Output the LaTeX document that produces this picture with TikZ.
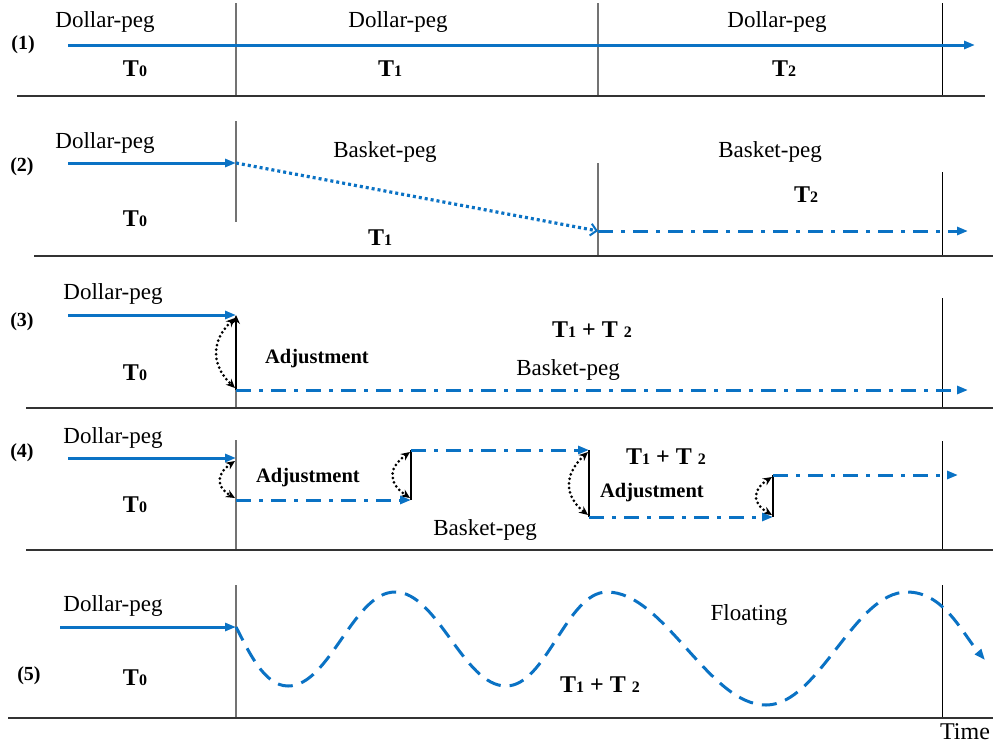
\documentclass[tikz,border=0pt]{standalone}
\usepackage{fontspec}
\setmainfont{Liberation Serif}
\usetikzlibrary{arrows.meta}
\definecolor{pegblue}{RGB}{10,114,196}
\newcommand\Dn[1]{{\fontsize{16}{18}\selectfont #1}}
\newcommand\Tn[1]{T\Dn{#1}}
\begin{document}
\begin{tikzpicture}[x=1pt,y=-1pt,
  lbl/.style={font=\fontsize{23}{26}\selectfont, inner sep=0pt},
  tlbl/.style={font=\bfseries\fontsize{24}{28}\selectfont, inner sep=0pt},
  adj/.style={font=\bfseries\fontsize{20.5}{24}\selectfont, inner sep=0pt},
  num/.style={font=\bfseries\fontsize{20}{24}\selectfont, inner sep=0pt},
  axisline/.style={draw=black!55, line width=1.3pt},
  sepline/.style={draw=black, line width=1pt},
  floorline/.style={draw=black!80, line width=1.3pt},
  bluetip/.style={-{Triangle[length=11pt,width=8pt]}},
  peg/.style={draw=pegblue, line width=3pt, bluetip},
  basket/.style={draw=pegblue, line width=3pt, dash pattern=on 15pt off 8pt on 4pt off 8pt, bluetip},
  slide/.style={draw=pegblue, line width=3.2pt, dash pattern=on 3pt off 3pt, -{Straight Barb[length=6pt,width=12pt,line width=2pt]}},
  wave/.style={draw=pegblue, line width=3pt, dash pattern=on 15pt off 9pt, bluetip},
  jump/.style={draw=black, line width=1.2pt},
  arcdot/.style={draw=black, line width=3pt, dash pattern=on 0pt off 4.6pt, line cap=round, {Stealth[length=9pt,width=8pt]}-{Stealth[length=9pt,width=8pt]}}
]
\useasboundingbox (0,0) rectangle (995,745);

% ---------------- Panel 1 ----------------
\node[num] (n1) at (23,45) {(1)};
\node[lbl] (p1a) at (105,22) {Dollar-peg};
\node[lbl] (p1b) at (398,22) {Dollar-peg};
\node[lbl] (p1c) at (777,22) {Dollar-peg};
\node[tlbl] (p1t0) at (135,69) {\Tn{0}};
\node[tlbl] (p1t1) at (390,69) {\Tn{1}};
\node[tlbl] (p1t2) at (784,69) {\Tn{2}};
\coordinate (p1s) at (68,45); \coordinate (p1e) at (975,45);
\coordinate (p1v1a) at (236,3); \coordinate (p1v1b) at (236,96);
\coordinate (p1v2a) at (598,3); \coordinate (p1v2b) at (598,96);
\coordinate (p1v3a) at (942,3); \coordinate (p1v3b) at (942,96);
\coordinate (p1fa) at (17,96); \coordinate (p1fb) at (985,96);
\draw[axisline] (p1v1a) -- (p1v1b);
\draw[axisline] (p1v2a) -- (p1v2b);
\draw[sepline] (p1v3a) -- (p1v3b);
\draw[floorline] (p1fa) -- (p1fb);
\draw[peg] (p1s) -- (p1e);

% ---------------- Panel 2 ----------------
\node[num] (n2) at (22,167) {(2)};
\node[lbl] (p2a) at (105,143) {Dollar-peg};
\node[lbl] (p2b) at (385,152) {Basket-peg};
\node[lbl] (p2c) at (770,152) {Basket-peg};
\node[tlbl] (p2t0) at (135,219) {\Tn{0}};
\node[tlbl] (p2t1) at (380,238) {\Tn{1}};
\node[tlbl] (p2t2) at (806,195) {\Tn{2}};
\coordinate (p2s) at (68,163); \coordinate (p2k) at (236,163);
\coordinate (p2m) at (598,231); \coordinate (p2e) at (968,231);
\coordinate (p2v1a) at (236,121); \coordinate (p2v1b) at (236,222);
\coordinate (p2v2a) at (598,163); \coordinate (p2v2b) at (598,256);
\coordinate (p2v3a) at (942,172); \coordinate (p2v3b) at (942,256);
\coordinate (p2fa) at (34,256); \coordinate (p2fb) at (993,256);
\draw[axisline] (p2v1a) -- (p2v1b);
\draw[axisline] (p2v2a) -- (p2v2b);
\draw[sepline] (p2v3a) -- (p2v3b);
\draw[floorline] (p2fa) -- (p2fb);
\draw[peg] (p2s) -- (p2k);
\draw[slide] (p2k) -- (p2m);
\draw[basket] (p2m) -- (p2e);

% ---------------- Panel 3 ----------------
\node[num] (n3) at (22,322) {(3)};
\node[lbl] (p3a) at (113,294) {Dollar-peg};
\node[adj] (p3adj) at (317,359) {Adjustment};
\node[tlbl] (p3t0) at (135,373) {\Tn{0}};
\node[tlbl] (p3t12) at (592,330) {\Tn{1} + T \Dn{2}};
\node[lbl] (p3b) at (568,370) {Basket-peg};
\coordinate (p3s) at (68,315); \coordinate (p3k) at (236,315);
\coordinate (p3j) at (236,390); \coordinate (p3e) at (968,390);
\coordinate (p3at) at (235,318); \coordinate (p3ab) at (235,388);
\coordinate (p3v1b) at (236,408);
\coordinate (p3v3a) at (942,298); \coordinate (p3v3b) at (942,408);
\coordinate (p3fa) at (26,408); \coordinate (p3fb) at (993,408);
\draw[axisline] (p3j) -- (p3v1b);
\draw[sepline] (p3v3a) -- (p3v3b);
\draw[floorline] (p3fa) -- (p3fb);
\draw[jump, -{Stealth[length=9pt,width=8pt]}] (p3j) -- (p3k);
\draw[arcdot] (p3at) .. controls (211,341) and (211,365) .. (p3ab);
\draw[peg] (p3s) -- (p3k);
\draw[basket] (p3j) -- (p3e);

% ---------------- Panel 4 ----------------
\node[num] (n4) at (22,453) {(4)};
\node[lbl] (p4a) at (113,438) {Dollar-peg};
\node[adj] (p4adj1) at (308,478) {Adjustment};
\node[adj] (p4adj2) at (652,493) {Adjustment};
\node[tlbl] (p4t12) at (666,457) {\Tn{1} + T \Dn{2}};
\node[lbl] (p4b) at (485,530) {Basket-peg};
\node[tlbl] (p4t0) at (135,505) {\Tn{0}};
\coordinate (p4s) at (68,458); \coordinate (p4k1) at (236,458);
\coordinate (p4j1) at (236,500); \coordinate (p4k2) at (411,500);
\coordinate (p4j2) at (411,450); \coordinate (p4k3) at (589,450);
\coordinate (p4j3) at (589,517); \coordinate (p4k4) at (773,517);
\coordinate (p4j4) at (773,475); \coordinate (p4e) at (958,475);
\coordinate (p4v1a) at (236,440); \coordinate (p4v1b) at (236,550);
\coordinate (p4v3a) at (942,441); \coordinate (p4v3b) at (942,550);
\coordinate (p4fa) at (26,550); \coordinate (p4fb) at (993,550);
\draw[axisline] (p4v1a) -- (p4v1b);
\draw[sepline] (p4v3a) -- (p4v3b);
\draw[floorline] (p4fa) -- (p4fb);
\draw[jump] (p4k2) -- (p4j2);
\draw[jump] (p4j3) -- (p4k3);
\draw[jump] (p4k4) -- (p4j4);
\draw[arcdot] (235,461) .. controls (216,474) and (216,487) .. (235,498);
\draw[arcdot] (410,452) .. controls (388,468) and (388,483) .. (410,498);
\draw[arcdot] (588,452) .. controls (564,474) and (564,496) .. (588,515);
\draw[arcdot] (772,477) .. controls (752,490) and (752,503) .. (772,515);
\draw[peg] (p4s) -- (p4k1);
\draw[basket] (p4j1) -- (p4k2);
\draw[basket] (p4j2) -- (p4k3);
\draw[basket] (p4j3) -- (p4k4);
\draw[basket] (p4j4) -- (p4e);

% ---------------- Panel 5 ----------------
\node[num] (n5) at (29,676) {(5)};
\node[lbl] (p5a) at (113,606) {Dollar-peg};
\node[tlbl] (p5t0) at (135,678) {\Tn{0}};
\node[lbl] (p5f) at (749,615) {Floating};
\node[tlbl] (p5t12) at (600,685) {\Tn{1} + T \Dn{2}};
\node[lbl, anchor=base, font=\fontsize{24}{27}\selectfont] (time) at (965,739) {Time};
\coordinate (p5s) at (60,627); \coordinate (w0) at (236,627);
\coordinate (m1) at (288,686); \coordinate (M1) at (395,592);
\coordinate (m2) at (506,686); \coordinate (M2) at (607,592);
\coordinate (m3) at (766,705); \coordinate (M3) at (907,592);
\coordinate (wend) at (985,660);
\coordinate (p5v1a) at (236,585); \coordinate (p5v1b) at (236,718);
\coordinate (p5v3a) at (942,585); \coordinate (p5v3b) at (942,718);
\coordinate (p5fa) at (8,718); \coordinate (p5fb) at (993,718);
\draw[axisline] (p5v1a) -- (p5v1b);
\draw[sepline] (p5v3a) -- (p5v3b);
\draw[floorline] (p5fa) -- (p5fb);
\draw[peg] (p5s) -- (w0);
\draw[wave] (w0) to[out=-62,in=180,looseness=0.8] (m1)
  to[out=0,in=180,looseness=0.75] (M1)
  to[out=0,in=180,looseness=0.75] (m2)
  to[out=0,in=180,looseness=0.75] (M2)
  to[out=0,in=180,looseness=0.75] (m3)
  to[out=0,in=180,looseness=0.75] (M3)
  to[out=0,in=130,looseness=0.9] (wend);
\end{tikzpicture}
\end{document}
